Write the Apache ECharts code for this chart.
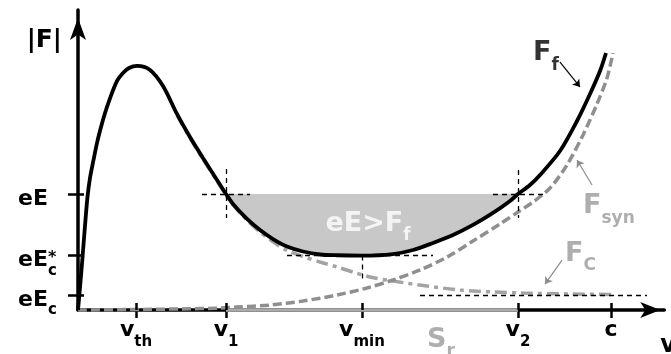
<!DOCTYPE html>
<html>
<head>
<meta charset="utf-8">
<script src="https://cdn.jsdelivr.net/npm/echarts@6/dist/echarts.min.js"></script>
<style>
  html, body { margin: 0; padding: 0; background: #ffffff; }
  #chart { width: 671px; height: 354px; }
</style>
</head>
<body>
<div id="chart"></div>
<script>
// Force levels (in units of eE_c) and characteristic speeds (in units of c)
const eEc = 1.0, eEcStar = 3.63, eE = 7.73;
const vth = 0.1088, v1 = 0.2777, vmin = 0.5328, v2 = 0.8255, cLight = 1.0;

// Axis ticks and their labels
const vTicks = [vth, v1, vmin, v2, cLight];
const vTickLabels = ['{m|v}{s|th}', '{m|v}{s|1}', '{m|v}{s|min}', '{m|v}{s|2}', '{m|c}'];
const fTicks = [eEc, eEcStar, eE];
const fTickLabels = ['{m|eE}{s|c}', '{m|eE}{p|*}{s|c}', '{m|eE}'];

// Total friction force F_f(v)
const ffV = [0, 0.0038, 0.0084, 0.0131, 0.0178, 0.0225, 0.0291, 0.0356, 0.0432, 0.0507, 0.0582,
  0.0732, 0.0844, 0.0957, 0.1107, 0.1351, 0.1595, 0.1857, 0.2101, 0.2345, 0.2608, 0.2777,
  0.2908, 0.3171, 0.3415, 0.3659, 0.3921, 0.4221, 0.4540, 0.4859, 0.5328, 0.5910, 0.6285, 0.6660,
  0.7036, 0.7411, 0.7786, 0.8105, 0.8255, 0.8480, 0.8668, 0.9043, 0.9362, 0.9606, 0.9794, 0.9906];
const ffF = [0, 1.53, 3.47, 5.6, 7.53, 8.8, 10.0, 11.13, 12.2, 13.13, 13.93,
  15.27, 15.8, 16.13, 16.27, 16.0, 14.93, 13.07, 11.53, 10.13, 8.67, 7.73,
  7.07, 6.07, 5.33, 4.73, 4.23, 3.9, 3.7, 3.65, 3.63, 3.73, 4.0, 4.47,
  5.0, 5.67, 6.47, 7.27, 7.73, 8.33, 9.0, 10.6, 12.6, 14.4, 15.93, 17.13];

// Synchrotron reaction force F_syn(v)
const synV = [0, 0.0976, 0.1914, 0.2664, 0.2983, 0.3602, 0.4221, 0.4859, 0.5422, 0.5910, 0.6417,
  0.6923, 0.7411, 0.7917, 0.8255, 0.8537, 0.8856, 0.9174, 0.9475, 0.9737, 0.9925, 1.0038];
const synF = [0, 0.03, 0.07, 0.13, 0.2, 0.33, 0.6, 1.0, 1.47, 2.0, 2.67,
  3.53, 4.6, 5.73, 6.53, 7.2, 8.13, 9.67, 11.67, 13.73, 15.47, 17.13];

// Collisional drag F_C(v)
const colV = [0.1857, 0.2101, 0.2345, 0.2608, 0.2777, 0.2908, 0.3171, 0.3415, 0.3659, 0.3921,
  0.4221, 0.4540, 0.4859, 0.5159, 0.5478, 0.5910, 0.6548, 0.7167, 0.7786, 0.8349, 0.9231, 1.0075];
const colF = [12.99, 11.46, 10.06, 8.6, 7.66, 7.0, 5.99, 5.2, 4.55, 3.97,
  3.57, 3.2, 2.87, 2.53, 2.2, 1.93, 1.6, 1.33, 1.2, 1.13, 1.07, 1.03];

const pairs = (xs, ys) => xs.map((x, i) => [x, ys[i]]);
const ffData = pairs(ffV, ffF);
const synData = pairs(synV, synF);
const colData = pairs(colV, colF);
// part of F_f lying below eE (runaway window v1..v2)
const windowData = ffData.filter(p => p[0] >= v1 - 1e-9 && p[0] <= v2 + 1e-9);

const FONT = 'DejaVu Sans';
const GRAY_TEXT = '#9a9a9a';
const pick = (ticks, labels) => value => {
  const i = ticks.findIndex(t => Math.abs(t - value) < 1e-6);
  return i < 0 ? '' : labels[i];
};

const tickStyle = { color: '#000', width: 2.5 };
const yRich = {
  m: { fontFamily: FONT, fontWeight: 'bold', fontSize: 22, lineHeight: 28, verticalAlign: 'top', color: '#000' },
  p: { fontFamily: FONT, fontWeight: 'bold', fontSize: 16, lineHeight: 14, verticalAlign: 'top', width: 0, color: '#000' },
  s: { fontFamily: FONT, fontWeight: 'bold', fontSize: 15, lineHeight: 15, verticalAlign: 'top', padding: [14, 0, 0, 0], color: '#000' }
};
const xRich = {
  m: { fontFamily: FONT, fontWeight: 'bold', fontSize: 22, lineHeight: 28, verticalAlign: 'top', color: '#000' },
  s: { fontFamily: FONT, fontWeight: 'bold', fontSize: 15, lineHeight: 15, verticalAlign: 'top', padding: [16, 0, 0, 0], color: '#000' }
};
const labelRich = color => ({
  m: { fontFamily: FONT, fontWeight: 'bold', fontSize: 27, lineHeight: 34, verticalAlign: 'top', color },
  s: { fontFamily: FONT, fontWeight: 'bold', fontSize: 17, lineHeight: 17, verticalAlign: 'top', padding: [17, 0, 0, 0], color }
});

const guideStyle = { color: '#000', width: 1.3, type: [5, 4] };

const option = {
  animation: false,
  grid: { left: 78, right: 6.7, top: 10, bottom: 44, outerBoundsMode: 'none' },
  xAxis: [
    {
      type: 'value', min: 0, max: 1.1, position: 'bottom',
      axisLine: { show: true, onZero: false, lineStyle: { color: '#000', width: 3.5 },
        symbol: ['none', 'arrow'], symbolSize: [12, 20], symbolOffset: [0, -4] },
      axisTick: { show: true, length: 8, customValues: vTicks, lineStyle: tickStyle },
      axisLabel: { customValues: vTicks, formatter: pick(vTicks, vTickLabels), margin: 9, rich: xRich },
      splitLine: { show: false },
      name: 'v', nameLocation: 'end', nameGap: -4,
      nameTextStyle: { fontFamily: FONT, fontWeight: 'bold', fontSize: 24, color: '#000',
        align: 'left', verticalAlign: 'top', padding: [24, 0, 0, 0] }
    },
    {
      // companion axis carrying the inner half of the crossing ticks
      type: 'value', min: 0, max: 1.1, position: 'top', z: 10,
      axisLine: { show: false, onZero: true },
      axisTick: { show: true, length: 7, customValues: vTicks, lineStyle: tickStyle },
      axisLabel: { show: false },
      splitLine: { show: false }
    }
  ],
  yAxis: [
    {
      type: 'value', min: 0, max: 20, position: 'left',
      axisLine: { show: true, onZero: false, lineStyle: { color: '#000', width: 3.5 },
        symbol: ['none', 'arrow'], symbolSize: [12, 22], symbolOffset: [0, -8] },
      axisTick: { show: true, length: 10, customValues: fTicks, lineStyle: tickStyle },
      axisLabel: { customValues: fTicks, formatter: pick(fTicks, fTickLabels), align: 'left', margin: 60,
        padding: [16, 0, 0, 0], rich: yRich },
      splitLine: { show: false },
      name: '|F|', nameLocation: 'end', nameGap: -30,
      nameTextStyle: { fontFamily: FONT, fontWeight: 'bold', fontSize: 25, color: '#000',
        align: 'right', verticalAlign: 'middle', padding: [0, 16, 0, 0] }
    },
    {
      type: 'value', min: 0, max: 20, position: 'right', z: 10,
      axisLine: { show: false, onZero: true },
      axisTick: { show: true, length: 6, customValues: fTicks, lineStyle: tickStyle },
      axisLabel: { show: false },
      splitLine: { show: false }
    }
  ],
  series: [
    {
      // region where eE exceeds F_f, plus the dashed guide lines
      type: 'line', z: 1, data: windowData, smooth: 0.3, symbol: 'none',
      lineStyle: { width: 0 },
      areaStyle: { color: '#c8c8c8', opacity: 1, origin: eE },
      markLine: {
        silent: true, symbol: 'none', label: { show: false }, lineStyle: guideStyle,
        data: [
          [{ coord: [0.2326, eE] }, { coord: [0.3227, eE] }],
          [{ coord: [v1, 9.4] }, { coord: [v1, 6.13] }],
          [{ coord: [0.7786, eE] }, { coord: [0.8724, eE] }],
          [{ coord: [v2, 9.33] }, { coord: [v2, 6.13] }],
          [{ coord: [0.3921, eEcStar] }, { coord: [0.6660, eEcStar] }],
          [{ coord: [vmin, eEcStar] }, { coord: [vmin, 1.87] }],
          [{ coord: [0.6417, eEc] }, { coord: [1.0675, eEc] }]
        ]
      }
    },
    {
      // S_r: runaway velocity range on the axis
      type: 'line', z: 2, clip: false, symbol: 'none',
      data: [[v1, 0], [v2, 0]],
      lineStyle: { color: '#ababab', width: 3.5 }
    },
    {
      name: 'F_C', type: 'line', z: 3, data: colData, smooth: 0.3, symbol: 'none',
      lineStyle: { color: '#a3a3a3', width: 3.5, type: [12, 5, 4, 5] },
      markLine: {
        silent: true, symbol: ['none', 'arrow'], symbolSize: 7, label: { show: false },
        lineStyle: { color: '#8c8c8c', width: 1.2, type: 'solid', curveness: -0.4 },
        data: [[{ coord: [0.9081, 3.33] }, { coord: [0.8762, 1.73] }]]
      }
    },
    {
      name: 'F_syn', type: 'line', z: 4, data: synData, smooth: 0.3, symbol: 'none', clip: false,
      lineStyle: { color: '#8f8f8f', width: 3.5, type: [9, 4] },
      markLine: {
        silent: true, symbol: ['none', 'arrow'], symbolSize: 7, label: { show: false },
        lineStyle: { color: '#8c8c8c', width: 1.2, type: 'solid', curveness: -0.4 },
        data: [[{ coord: [0.9644, 8.33] }, { coord: [0.9362, 10.0] }]]
      }
    },
    {
      name: 'F_f', type: 'line', z: 5, data: ffData, smooth: 0.3, symbol: 'none', clip: false,
      lineStyle: { color: '#000', width: 3.8 },
      markLine: {
        silent: true, symbol: ['none', 'arrow'], symbolSize: 7, label: { show: false },
        lineStyle: { color: '#000', width: 1.2, type: 'solid', curveness: 0.4 },
        data: [[{ coord: [0.9043, 16.53] }, { coord: [0.9418, 14.87] }]]
      }
    },
    {
      // curve and region labels
      type: 'scatter', z: 6, symbolSize: 0, silent: true, clip: false,
      label: { show: true, position: 'right', distance: 0 },
      data: [
        { value: [0.8537, 16.87], label: { formatter: '{m|F}{s|f}', rich: labelRich('#000') } },
        { value: [0.9475, 6.67], label: { formatter: '{m|F}{s|syn}', rich: labelRich(GRAY_TEXT) } },
        { value: [0.9137, 3.53], label: { formatter: '{m|F}{s|C}', rich: labelRich(GRAY_TEXT) } },
        { value: [0.6548, -2.2], label: { formatter: '{m|S}{s|r}', rich: labelRich(GRAY_TEXT) } },
        { value: [0.5441, 5.53], label: { position: 'inside', formatter: '{m|eE>F}{s|f}', rich: labelRich('#ffffff') } }
      ]
    }
  ]
};

const chart = echarts.init(document.getElementById('chart'));
chart.setOption(option);
</script>
</body>
</html>
